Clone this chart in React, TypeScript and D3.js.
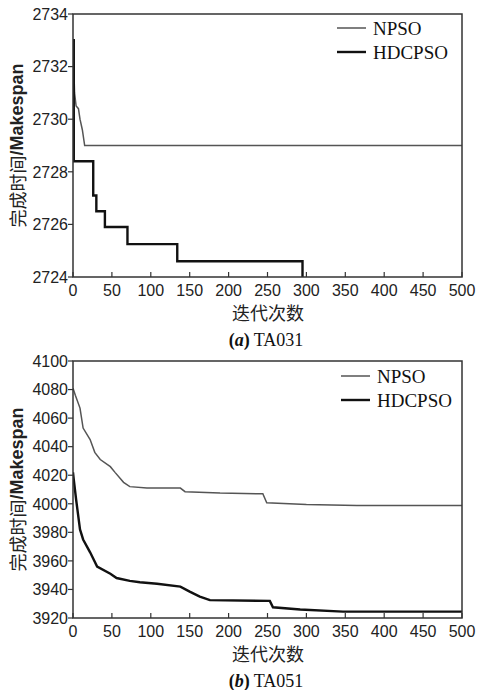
import React from 'react';
import * as d3 from 'd3';

// iterations on x, makespan on y
const xTicks = [0, 50, 100, 150, 200, 250, 300, 350, 400, 450, 500];

const taTicks = [2724, 2726, 2728, 2730, 2732, 2734];
const taNpso: [number, number][] = [
  [0, 2733], [2, 2731], [4, 2730.5], [7, 2730.4], [9, 2730.0],
  [12, 2729.6], [15, 2729.0], [500, 2729.0],
];
const taHdcpso: [number, number][] = [
  [0, 2733], [1, 2728.4], [26, 2727.1], [30, 2726.5], [41, 2725.9],
  [70, 2725.25], [134, 2724.6], [295, 2723.5], [500, 2723.5],
];

const tbTicks = [3920, 3940, 3960, 3980, 4000, 4020, 4040, 4060, 4080, 4100];
const tbNpso: [number, number][] = [
  [0, 4081], [3, 4076], [9, 4067], [13, 4053], [22, 4045], [28, 4036],
  [35, 4031], [48, 4026], [54, 4022], [65, 4015], [73, 4012], [95, 4011],
  [138, 4011], [144, 4008.5], [189, 4007.5], [244, 4007], [249, 4000.7],
  [300, 3999.5], [365, 3998.8], [500, 3998.8],
];
const tbHdcpso: [number, number][] = [
  [0, 4022], [1, 4017], [4, 4003], [9, 3982], [13, 3975], [22, 3966],
  [31, 3956], [48, 3951], [56, 3948], [73, 3946], [86, 3945], [108, 3944],
  [138, 3942], [150, 3938.5], [163, 3935], [176, 3932.5], [253, 3932],
  [257, 3927.5], [292, 3926], [347, 3924.5], [500, 3924.5],
];

const seriesNames = ['NPSO', 'HDCPSO'];

const sans = '"Liberation Sans", Arial, sans-serif';
const serif = '"Liberation Serif", "Times New Roman", serif';
const cjk = '"Noto Sans CJK SC", sans-serif';

type PanelProps = {
  id: string;
  top: number;
  bottom: number;
  yTicks: number[];
  npso: [number, number][];
  hdcpso: [number, number][];
  step: boolean;
  tag: string;
  name: string;
  legendY: number;
  legendX: number;
};

const Panel = ({ id, top, bottom, yTicks, npso, hdcpso, step, tag, name, legendY, legendX }: PanelProps) => {
  const left = 73;
  const right = 462;
  const x = d3.scaleLinear().domain([0, 500]).range([left, right]);
  const y = d3.scaleLinear()
    .domain([yTicks[0], yTicks[yTicks.length - 1]])
    .range([bottom, top]);

  const line = d3.line<[number, number]>()
    .x(d => x(d[0]))
    .y(d => y(d[1]));
  const stepLine = d3.line<[number, number]>()
    .x(d => x(d[0]))
    .y(d => y(d[1]))
    .curve(d3.curveStepAfter);

  const midY = (top + bottom) / 2;

  return (
    <g>
      <defs>
        <clipPath id={id}>
          <rect x={left} y={top} width={right - left} height={bottom - top} />
        </clipPath>
      </defs>
      <g clipPath={`url(#${id})`}>
        <path d={line(npso) || ''} fill="none" stroke="#555" strokeWidth={1.5} />
        <path d={(step ? stepLine : line)(hdcpso) || ''} fill="none" stroke="#111" strokeWidth={2.4} />
      </g>
      <rect x={left} y={top} width={right - left} height={bottom - top} fill="none" stroke="#333" strokeWidth={1.5} />
      {yTicks.map(t => (
        <g key={t}>
          <line x1={left - 5} x2={left} y1={y(t)} y2={y(t)} stroke="#333" strokeWidth={1.2} />
          <text x={68} y={y(t)} dy="0.36em" textAnchor="end" fontFamily={sans} fontSize={16} fill="#222">{t}</text>
        </g>
      ))}
      {xTicks.map(t => (
        <g key={t}>
          <line x1={x(t)} x2={x(t)} y1={bottom} y2={bottom - 5} stroke="#333" strokeWidth={1.2} />
          <text x={x(t)} y={bottom + 19} textAnchor="middle" fontFamily={sans} fontSize={16} fill="#222">{t}</text>
        </g>
      ))}
      <text transform={`translate(17,${midY}) rotate(-90)`} textAnchor="middle" dominantBaseline="central" fontSize={18} fill="#222">
        <tspan fontFamily={cjk}>完成时间</tspan>
        <tspan fontFamily={sans} fontWeight="bold">/Makespan</tspan>
      </text>
      <text x={268} y={bottom + 43} textAnchor="middle" fontFamily={cjk} fontSize={18} fill="#222">迭代次数</text>
      <text x={266} y={bottom + 69} textAnchor="middle" fontFamily={serif} fontSize={18} fill="#111">
        <tspan fontWeight="bold">(</tspan>
        <tspan fontWeight="bold" fontStyle="italic">{tag}</tspan>
        <tspan fontWeight="bold">)</tspan>
        <tspan> {name}</tspan>
      </text>
      {seriesNames.map((s, i) => (
        <g key={s}>
          <line x1={legendX} x2={legendX + 29} y1={legendY + i * 24} y2={legendY + i * 24}
            stroke={i === 0 ? '#555' : '#111'} strokeWidth={i === 0 ? 1.5 : 2.4} />
          <text x={legendX + 36} y={legendY + i * 24} dy="0.35em" fontFamily={serif} fontSize={19} fill="#111">{s}</text>
        </g>
      ))}
    </g>
  );
};

const App = () => (
  <svg width={477} height={690} style={{ position: 'absolute', left: 0, top: 0, background: '#fff' }}>
    <rect width={477} height={690} fill="#fff" />
    <Panel id="clipA" top={14} bottom={277} yTicks={taTicks} npso={taNpso} hdcpso={taHdcpso}
      step tag="a" name="TA031" legendX={337} legendY={28} />
    <Panel id="clipB" top={361} bottom={618} yTicks={tbTicks} npso={tbNpso} hdcpso={tbHdcpso}
      step={false} tag="b" name="TA051" legendX={341} legendY={376} />
  </svg>
);

export default App;
